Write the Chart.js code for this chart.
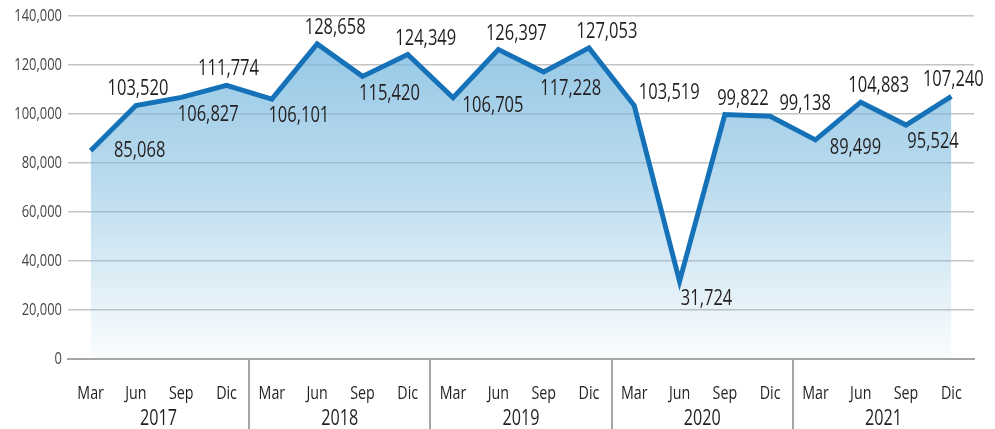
<!DOCTYPE html>
<html>
<head>
<meta charset="utf-8">
<script src="https://cdn.jsdelivr.net/npm/chart.js@4"></script>
<style>
html,body{margin:0;padding:0;background:#fff;}
#wrap{width:995px;height:429px;}
</style>
</head>
<body>
<div id="wrap"><canvas id="c" width="995" height="429"></canvas></div>
<script>
const quarters = ['Mar','Jun','Sep','Dic'];
const years = ['2017','2018','2019','2020','2021'];
const categories = [].concat(...years.map(() => quarters));
const values = [85068,103520,106827,111774,106101,128658,115420,124349,106705,126397,117228,127053,103519,31724,99822,99138,89499,104883,95524,107240];
const labelPlacement = ['r','a0','b','a0','b','a','b','a','br','a','b','a','ar','b','a','ar','br','a','b','a0'];
const yTicks = [0,20000,40000,60000,80000,100000,120000,140000];

const FONT = "'Open Sans','Noto Sans','DejaVu Sans',sans-serif";
const placementOffsets = { a0:[2,-17], a:[18,-16], ar:[35,-13], b:[27,17], br:[40,8], r:[49,0] };
// horizontal squeeze per font size (condensed look)
const squeeze = { 17: 0.76, 19: 0.75, 21: 0.77, 22: 0.75 };

const fmt = v => v.toLocaleString('en-US');

const condensePlugin = {
  id: 'condense',
  beforeInit(chart) {
    const ctx = chart.ctx;
    const orig = ctx.fillText.bind(ctx);
    ctx.fillText = function (t, x, y) {
      const m = /(\d+(?:\.\d+)?)px/.exec(ctx.font);
      const size = m ? Math.round(parseFloat(m[1])) : 0;
      const sx = squeeze[size] || 0.75;
      ctx.save();
      ctx.translate(x, y);
      ctx.scale(sx, 1);
      orig(t, 0, 0);
      ctx.restore();
    };
  }
};

const labelPlugin = {
  id: 'valLabels',
  afterDatasetsDraw(chart) {
    const ctx = chart.ctx;
    const meta = chart.getDatasetMeta(0);
    ctx.save();
    ctx.font = '22px ' + FONT;
    ctx.fillStyle = '#231f20';
    ctx.textAlign = 'center';
    ctx.textBaseline = 'middle';
    meta.data.forEach((pt, i) => {
      const off = placementOffsets[labelPlacement[i]];
      ctx.fillText(fmt(values[i]), pt.x + off[0], pt.y + off[1]);
    });
    ctx.restore();
  }
};

const sepPlugin = {
  id: 'groupSep',
  afterDraw(chart) {
    const x = chart.scales.x;
    const ctx = chart.ctx;
    const step = x.getPixelForValue(1) - x.getPixelForValue(0);
    ctx.save();
    ctx.strokeStyle = '#a6a6a6';
    ctx.lineWidth = 2;
    for (let g = 1; g < years.length; g++) {
      const px = Math.round(x.getPixelForValue(g * quarters.length) - step / 2);
      ctx.beginPath();
      ctx.moveTo(px, chart.chartArea.bottom);
      ctx.lineTo(px, chart.height);
      ctx.stroke();
    }
    ctx.restore();
  }
};

new Chart(document.getElementById('c'), {
  type: 'line',
  data: {
    labels: categories,
    datasets: [{
      data: values,
      borderColor: '#1672b8',
      borderWidth: 5,
      pointRadius: 0,
      tension: 0,
      fill: 'origin',
      backgroundColor: (context) => {
        const ca = context.chart.chartArea;
        if (!ca) return 'rgba(115,182,222,0.6)';
        const g = context.chart.ctx.createLinearGradient(0, ca.top + 30, 0, ca.bottom);
        g.addColorStop(0, 'rgba(115,182,222,0.75)');
        g.addColorStop(0.45, 'rgba(121,185,221,0.5)');
        g.addColorStop(1, 'rgba(121,185,221,0.03)');
        return g;
      }
    }]
  },
  options: {
    responsive: false,
    animation: false,
    layout: { padding: { top: 16, right: 21, left: 0, bottom: 0 } },
    plugins: { legend: { display: false }, tooltip: { enabled: false } },
    scales: {
      y: {
        min: 0, max: 140000,
        afterBuildTicks: (s) => { s.ticks = yTicks.map(v => ({ value: v })); },
        afterFit: (s) => { s.width = 68; },
        grid: { color: '#c4c4c4', lineWidth: 1.5, drawTicks: false },
        border: { display: false },
        ticks: {
          padding: 6,
          color: '#444',
          font: { family: FONT, size: 17 },
          callback: v => fmt(v)
        }
      },
      x: {
        offset: true,
        grid: { display: false, drawTicks: false },
        border: { display: true, color: '#a6a6a6', width: 2 },
        afterFit: (s) => { s.height = 46; },
        ticks: {
          padding: 23,
          maxRotation: 0,
          autoSkip: false,
          color: '#231f20',
          font: { family: FONT, size: 19 }
        }
      },
      x2: {
        type: 'category',
        labels: years,
        offset: true,
        position: 'bottom',
        grid: { display: false, drawTicks: false },
        border: { display: false },
        afterFit: (s) => { s.height = 24; },
        ticks: {
          padding: 1,
          maxRotation: 0,
          color: '#231f20',
          font: { family: FONT, size: 21 }
        }
      }
    }
  },
  plugins: [condensePlugin, labelPlugin, sepPlugin]
});
</script>
</body>
</html>
